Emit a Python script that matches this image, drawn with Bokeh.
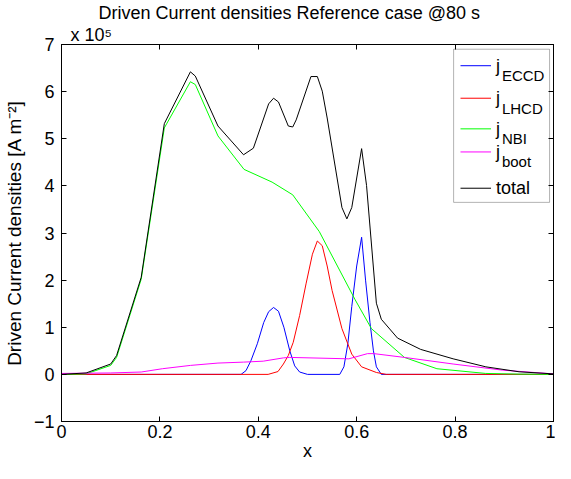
from bokeh.plotting import figure
from bokeh.models import LinearAxis, Label, BoxAnnotation, Range1d, FixedTicker, Title
from bokeh.embed import file_html
from bokeh.resources import INLINE

FONT = "Liberation Sans"

# ---- data (values in units of 1e5 A m^-2) ----
x_nbi = [0, 0.05, 0.10, 0.112, 0.162, 0.209, 0.262, 0.272, 0.318, 0.371, 0.428, 0.47,
         0.524, 0.597, 0.63, 0.697, 0.763, 0.862, 0.93, 1.0]
j_nbi = [0, 0.01, 0.19, 0.36, 2.02, 5.23, 6.21, 6.15, 5.06, 4.35, 4.08, 3.81,
         3.03, 1.58, 0.97, 0.36, 0.12, 0.02, 0.005, 0]

x_tot = [0, 0.05, 0.10, 0.112, 0.162, 0.209, 0.262, 0.272, 0.318, 0.37, 0.39, 0.421,
         0.431, 0.441, 0.461, 0.47, 0.477, 0.507, 0.52, 0.53, 0.54, 0.57, 0.58, 0.59,
         0.61, 0.62, 0.64, 0.65, 0.683, 0.73, 0.796, 0.8625, 0.93, 1.0]
j_tot = [0, 0.03, 0.22, 0.40, 2.06, 5.32, 6.42, 6.33, 5.27, 4.66, 4.80, 5.74,
         5.86, 5.78, 5.27, 5.25, 5.40, 6.32, 6.32, 6.01, 5.44, 3.54, 3.30, 3.54,
         4.79, 4.01, 1.51, 1.17, 0.77, 0.53, 0.33, 0.16, 0.055, 0.01]

x_ec = [0, 0.365, 0.375, 0.385, 0.398, 0.411, 0.421, 0.431, 0.441, 0.452, 0.464, 0.474,
        0.484, 0.50, 0.5656, 0.574, 0.582, 0.59, 0.60, 0.61, 0.618, 0.627, 0.634, 0.64,
        0.65, 1.0]
j_ec = [0, 0, 0.08, 0.29, 0.65, 1.10, 1.33, 1.42, 1.34, 1.00, 0.50, 0.18,
        0.05, 0, 0, 0.16, 0.65, 1.44, 2.30, 2.91, 2.00, 1.10, 0.50, 0.16,
        0, 0]

x_lh = [0, 0.42, 0.44, 0.451, 0.461, 0.471, 0.484, 0.497, 0.51, 0.52, 0.53, 0.54,
        0.55, 0.57, 0.59, 0.61, 0.64, 0.66, 1.0]
j_lh = [0, 0, 0.06, 0.22, 0.40, 0.68, 1.25, 1.92, 2.55, 2.83, 2.73, 2.30,
        1.78, 0.97, 0.43, 0.16, 0.04, 0, 0]

x_bt = [0, 0.10, 0.162, 0.205, 0.262, 0.318, 0.37, 0.41, 0.451, 0.464, 0.584, 0.622,
        0.635, 0.697, 0.796, 0.896, 1.0]
j_bt = [0.02, 0.03, 0.05, 0.12, 0.19, 0.24, 0.26, 0.28, 0.35, 0.36, 0.33, 0.44,
        0.44, 0.36, 0.22, 0.09, 0.01]

series = [
    (x_ec, j_ec, "#0000ff", "j", "ECCD"),
    (x_lh, j_lh, "#ff0000", "j", "LHCD"),
    (x_nbi, j_nbi, "#00ff00", "j", "NBI"),
    (x_bt, j_bt, "#ff00ff", "j", "boot"),
    (x_tot, j_tot, "#000000", "total", ""),
]

x_ticks = [0, 0.2, 0.4, 0.6, 0.8, 1]
y_ticks = [-1, 0, 1, 2, 3, 4, 5, 6, 7]
title_text = "Driven Current densities Reference case @80 s"
exp_text = "x 10\u2075"

p = figure(width=555, height=463, output_backend="svg", toolbar_location=None,
           title_location=None,
           x_range=Range1d(0, 1), y_range=Range1d(-1, 7),
           min_border_left=59, min_border_right=2, min_border_top=0, min_border_bottom=40)
p.background_fill_color = "white"
p.border_fill_color = "white"
p.outline_line_color = "black"
p.outline_line_width = 1
p.xgrid.visible = False
p.ygrid.visible = False

def style_axis(ax, ticks, labels=True):
    ax.ticker = FixedTicker(ticks=ticks)
    ax.major_tick_in = 5
    ax.major_tick_out = 0
    ax.minor_tick_line_color = None
    ax.axis_line_color = "black"
    ax.major_tick_line_color = "black"
    ax.major_label_text_font = FONT
    ax.major_label_text_color = "black"
    ax.major_label_text_font_size = "18px"
    if not labels:
        ax.major_label_overrides = {t: "" for t in ticks}
        ax.major_label_text_font_size = "1px"
        ax.major_label_standoff = 0

style_axis(p.xaxis[0], x_ticks)
style_axis(p.yaxis[0], y_ticks)
p.xaxis[0].major_label_standoff = 3
p.yaxis[0].major_label_standoff = 7
p.xaxis[0].axis_label = "x"
p.xaxis[0].axis_label_standoff = 0
p.yaxis[0].axis_label = "Driven Current densities [A m\u207b\u00b2]"
p.yaxis[0].axis_label_standoff = 6
for ax in (p.xaxis[0], p.yaxis[0]):
    ax.axis_label_text_font = FONT
    ax.axis_label_text_font_size = "19px"
    ax.axis_label_text_font_style = "normal"
    ax.axis_label_text_color = "black"
p.xaxis[0].axis_label_text_font_size = "18px"

ax_top = LinearAxis()
style_axis(ax_top, x_ticks, labels=False)
p.add_layout(ax_top, "above")
ax_right = LinearAxis()
style_axis(ax_right, y_ticks, labels=False)
p.add_layout(ax_right, "right")

# exponent row (nearest the frame), then the main title row above it
p.add_layout(Title(text=exp_text, align="left", offset=9, standoff=0,
                   text_font=FONT, text_font_size="18px", text_font_style="normal",
                   text_color="black", text_line_height=0.8), "above")
p.add_layout(Title(text=title_text, align="left", offset=37, standoff=0,
                   text_font=FONT, text_font_size="18px", text_font_style="normal",
                   text_color="black", text_line_height=0.9), "above")

for xs, ys, col, name, sub in series:
    p.line(xs, ys, line_color=col, line_width=1)

# ---- legend (drawn manually to allow subscripts) ----
leg_left, leg_right, leg_top, leg_bottom = 0.797, 0.992, 6.90, 3.65
p.add_layout(BoxAnnotation(left=leg_left, right=leg_right, top=leg_top, bottom=leg_bottom,
                           fill_color="white", fill_alpha=1, line_color="black",
                           line_width=1, level="underlay"))
entry_y = [6.55, 5.86, 5.21, 4.72, 3.95]
samp_x0, samp_x1, text_x = 0.811, 0.873, 0.883
for (xs, ys, col, name, sub), yy in zip(series, entry_y):
    p.line(x=[samp_x0, samp_x1], y=[yy, yy], line_color=col, line_width=1)
    p.add_layout(Label(x=text_x, y=yy, text=name, text_font=FONT, text_font_size="18px",
                       text_baseline="middle", text_color="black"))
    if sub:
        p.add_layout(Label(x=text_x, y=yy, x_offset=6, y_offset=-10, text=sub,
                           text_font=FONT, text_font_size="15px",
                           text_baseline="middle", text_color="black"))

open("out.html", "w").write(file_html(p, INLINE))
